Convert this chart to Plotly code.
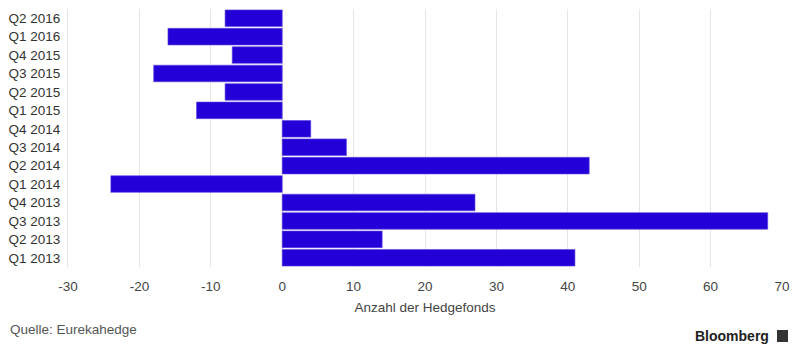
import plotly.graph_objects as go

quarters = ["Q1 2013", "Q2 2013", "Q3 2013", "Q4 2013",
            "Q1 2014", "Q2 2014", "Q3 2014", "Q4 2014",
            "Q1 2015", "Q2 2015", "Q3 2015", "Q4 2015",
            "Q1 2016", "Q2 2016"]
hedge_funds = [41, 14, 68, 27, -24, 43, 9, 4, -12, -8, -18, -7, -16, -8]
x_ticks = [-30, -20, -10, 0, 10, 20, 30, 40, 50, 60, 70]
x_tick_text = [str(v) for v in x_ticks]

fig = go.Figure(go.Bar(
    x=hedge_funds, y=quarters, orientation="h",
    marker=dict(color="#2400d8", line=dict(color="#5a48e0", width=0.6)),
))

fig.update_layout(
    width=800, height=351,
    margin=dict(l=68, r=18, t=9, b=84),
    paper_bgcolor="white", plot_bgcolor="white",
    bargap=0.1,
    showlegend=False,
    font=dict(family="Liberation Sans, Arial, sans-serif", size=13.5, color="#333333"),
    xaxis=dict(
        range=[-30, 70], tickvals=x_ticks, ticktext=x_tick_text,
        showgrid=True, gridcolor="#e6e6e6",
        gridwidth=1, zeroline=False, showline=False, ticks="",
        ticklabelstandoff=9,
        tickfont=dict(size=13.5, color="#444444"),
        title=dict(text="Anzahl der Hedgefonds", font=dict(size=13.5, color="#444444"), standoff=10),
    ),
    yaxis=dict(
        categoryorder="array", categoryarray=quarters,
        showgrid=False, zeroline=False, showline=True, linecolor="#e6e6e6",
        ticks="", ticklabelstandoff=4, tickfont=dict(size=13.5, color="#333333"),
    ),
    annotations=[
        dict(text="Quelle: Eurekahedge", xref="paper", yref="paper",
             x=-60/714, y=-62/258, xanchor="left", yanchor="middle", showarrow=False,
             font=dict(size=13.5, color="#555555")),
        dict(text="<b>Bloomberg</b>", xref="paper", yref="paper",
             x=(771-68)/714, y=-(336-267)/258, xanchor="right", yanchor="middle",
             showarrow=False, font=dict(size=14, color="#222222")),
    ],
    shapes=[
        dict(type="rect", xref="paper", yref="paper",
             x0=(777-68)/714, x1=(788-68)/714, y0=-(342-267)/258, y1=-(330-267)/258,
             fillcolor="#333333", line=dict(width=0)),
    ],
)

fig.write_html("out.html")
